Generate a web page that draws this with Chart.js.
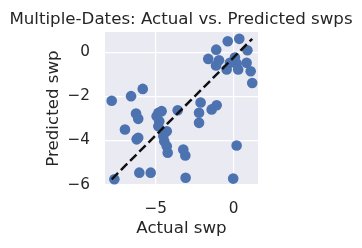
<!DOCTYPE html>
<html>
<head>
<meta charset="utf-8">
<script src="https://cdn.jsdelivr.net/npm/chart.js@4/dist/chart.umd.min.js"></script>
<style>
    body { margin: 0; background: #ffffff; }
    #wrap { width: 362px; height: 248px; }
</style>
</head>
<body>
<div id="wrap"><canvas id="swpChart" width="362" height="248"></canvas></div>
<script>
// values
var actualSwp = [
    -7.82, -6.58, -5.83, -6.97, -6.26, -6.12, -6.22, -6.12, -6.05, -5.32,
    -7.65, -4.94, -4.83, -4.62, -4.77, -4.83, -4.29, -4.51, -4.45, -4.29,
    -4.23, -3.59, -3.23, -3.10, -3.08, -2.22, -2.22, -2.12, -1.41, -1.09,
    0.19, -0.03, -1.63, -1.12, -0.38, 0.36, 0.88, -0.94, -1.13, -0.45,
    0.08, 0.19, 0.29, 0.83, 1.09, 1.19, -0.24
];
var predictedSwp = [
    -2.20, -1.99, -1.66, -3.50, -2.78, -3.02, -3.95, -3.88, -5.46, -5.46,
    -5.76, -2.90, -2.75, -2.67, -3.13, -3.35, -3.58, -3.80, -4.03, -4.26,
    -4.56, -2.63, -4.41, -4.68, -5.69, -3.20, -2.74, -2.28, -2.59, -2.40,
    -4.23, -5.73, -0.30, 0.12, 0.50, 0.61, 0.09, -0.36, -0.60, -0.78,
    -0.24, -0.51, -0.78, -0.48, -0.86, -1.39, -0.48
];
var xTickValues = [-5, 0];
var xTickLabels = ['\u22125', '0'];
var yTickValues = [-6, -4, -2, 0];
var yTickLabels = ['\u22126', '\u22124', '\u22122', '0'];

var textColor = '#262626';
var fontFamily = '"DejaVu Sans", sans-serif';

var points = actualSwp.map(function(v, i) {
    return { x: v, y: predictedSwp[i] };
});

// reference line from (min actual, min predicted) to (max actual, max predicted)
var linePoints = [
    { x: Math.min.apply(null, actualSwp), y: Math.min.apply(null, predictedSwp) },
    { x: Math.max.apply(null, actualSwp), y: Math.max.apply(null, predictedSwp) }
];

var plotBackground = {
    id: 'plotBackground',
    beforeDraw: function(chart) {
        var ctx = chart.ctx;
        var area = chart.chartArea;
        ctx.save();
        ctx.fillStyle = '#EAEAF2';
        ctx.fillRect(area.left, area.top, area.right - area.left, area.bottom - area.top);
        ctx.restore();
    }
};

var ctx = document.getElementById('swpChart').getContext('2d');
var swpChart = new Chart(ctx, {
    type: 'scatter',
    data: {
        datasets: [{
            type: 'line',
            data: linePoints,
            borderColor: '#111111',
            borderWidth: 2.5,
            borderDash: [9, 4],
            pointRadius: 0,
            fill: false
        }, {
            data: points,
            backgroundColor: '#4C72B0',
            borderWidth: 0,
            pointRadius: 5.3,
            pointHoverRadius: 5.3
        }]
    },
    options: {
        responsive: false,
        animation: false,
        devicePixelRatio: 1,
        layout: {
            padding: 0
        },
        plugins: {
            legend: { display: false },
            tooltip: { enabled: false },
            title: {
                display: true,
                text: 'Multiple-Dates: Actual vs. Predicted swps',
                color: textColor,
                font: { family: fontFamily, size: 16.67, weight: 'normal' },
                padding: { top: 10, bottom: 2 }
            }
        },
        scales: {
            x: {
                type: 'linear',
                min: -8.25,
                max: 1.56,
                afterBuildTicks: function(scale) {
                    scale.ticks = xTickValues.map(function(v) { return { value: v }; });
                },
                afterFit: function(scale) {
                    scale.height = 63;
                },
                grid: { color: '#ffffff', lineWidth: 1.2, drawTicks: false },
                border: { display: false },
                ticks: {
                    color: textColor,
                    padding: 15,
                    maxRotation: 0,
                    font: { family: fontFamily, size: 15.28 },
                    callback: function(value) {
                        return xTickLabels[xTickValues.indexOf(value)];
                    }
                },
                title: {
                    display: true,
                    text: 'Actual swp',
                    color: textColor,
                    font: { family: fontFamily, size: 16.67 },
                    padding: { top: 0, bottom: 9.6 }
                }
            },
            y: {
                type: 'linear',
                min: -6.02,
                max: 0.92,
                afterBuildTicks: function(scale) {
                    scale.ticks = yTickValues.map(function(v) { return { value: v }; });
                },
                afterFit: function(scale) {
                    scale.width = 105;
                },
                grid: { color: '#ffffff', lineWidth: 1.2, drawTicks: false },
                border: { display: false },
                ticks: {
                    color: textColor,
                    padding: 15,
                    font: { family: fontFamily, size: 15.28 },
                    callback: function(value) {
                        return yTickLabels[yTickValues.indexOf(value)];
                    }
                },
                title: {
                    display: true,
                    text: 'Predicted swp',
                    color: textColor,
                    font: { family: fontFamily, size: 16.67 },
                    padding: { top: 43.5, bottom: 0 }
                }
            },
            // empty axis that only holds the blank space right of the plot
            spacer: {
                type: 'linear',
                position: 'right',
                min: 0,
                max: 1,
                afterFit: function(scale) {
                    scale.width = 104;
                },
                grid: { display: false, drawTicks: false },
                border: { display: false },
                ticks: { display: false }
            }
        }
    },
    plugins: [plotBackground]
});
</script>
</body>
</html>
